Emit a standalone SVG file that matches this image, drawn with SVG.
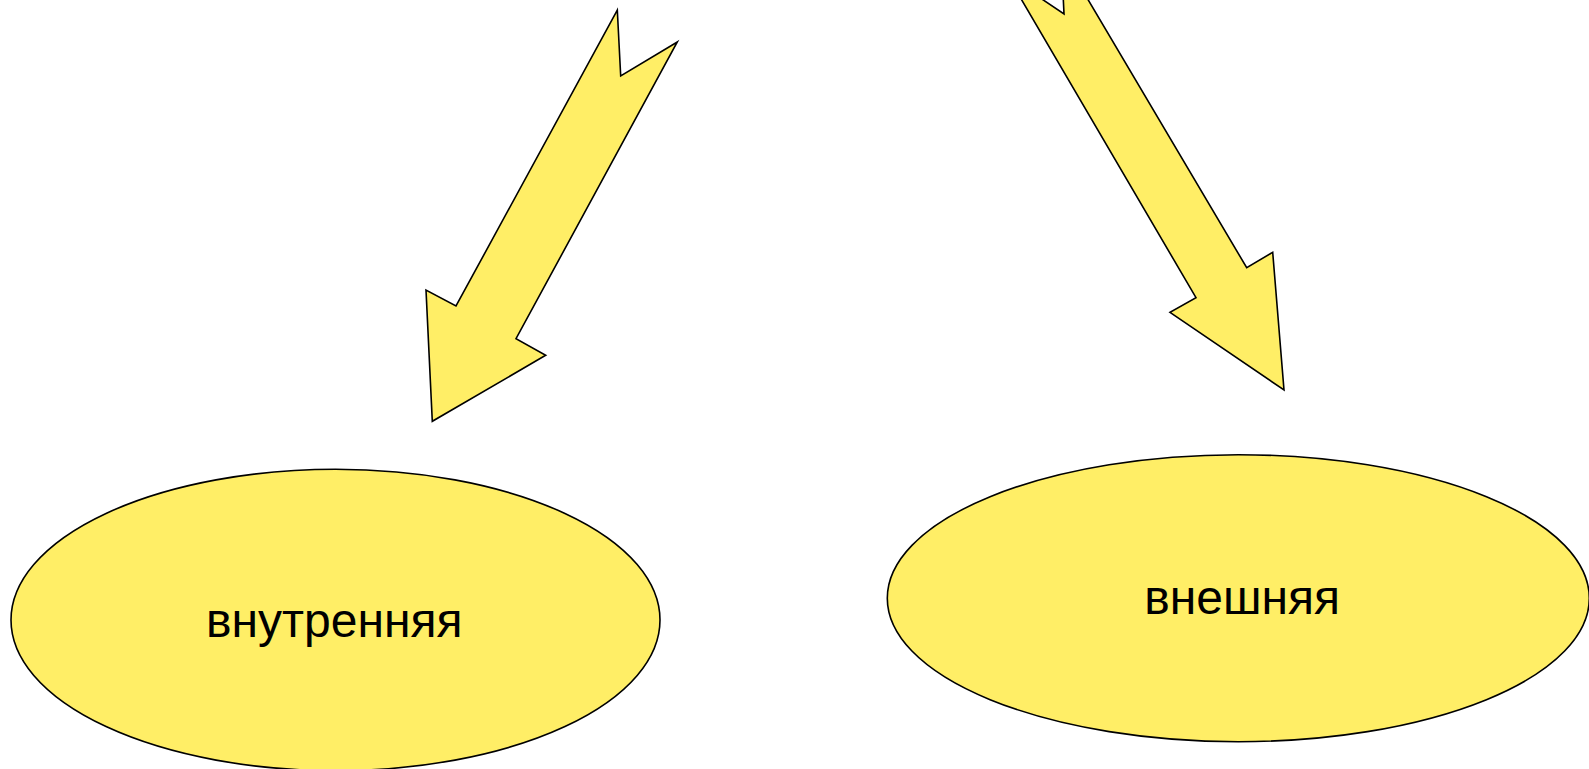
<svg xmlns="http://www.w3.org/2000/svg" width="1589" height="769" viewBox="0 0 1589 769">
<style>
.shape{fill:#FFEE66;stroke:#000;stroke-width:1.6;stroke-linejoin:miter}
.lbl{font-family:"Liberation Sans",Arial,sans-serif;font-size:48px;fill:#000;text-anchor:middle}
</style>
<rect width="1589" height="769" fill="#fff"/>
<g id="connectors">
<polygon class="shape" points="617.3,10 620.7,76 677.3,42 516,338.7 545.7,355.3 432.3,421.3 426,290 456,306"/>
<polygon class="shape" points="1018.8,-5 1035.9,-5 1064,14 1063.1,-5 1085.3,-5 1246.7,267.7 1272.7,252.3 1284,390 1170,312.3 1196,297.7"/>
</g>
<g id="node-inner">
<ellipse class="shape" cx="335.5" cy="620" rx="324.5" ry="150.7"/>
<text class="lbl" x="334.3" y="636.7">внутренняя</text>
</g>
<g id="node-outer">
<ellipse class="shape" cx="1238.3" cy="598.2" rx="351" ry="143.5"/>
<text class="lbl" x="1242.2" y="614.3">внешняя</text>
</g>
</svg>
